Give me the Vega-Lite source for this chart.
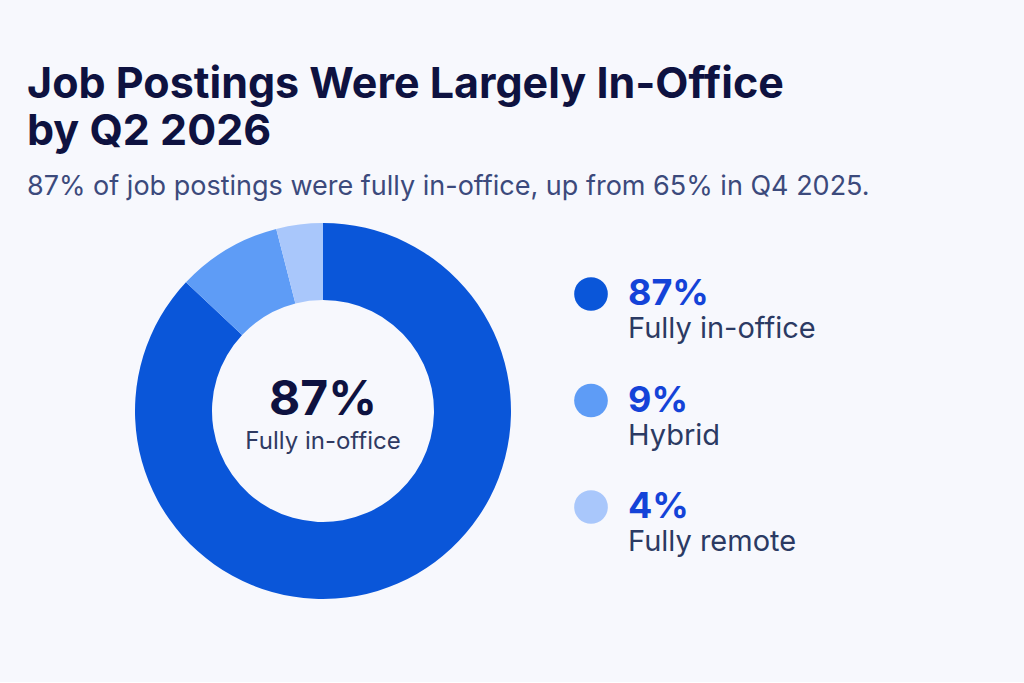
{
  "$schema": "https://vega.github.io/schema/vega-lite/v6.json",
  "background": "#f7f8fd",
  "padding": {"left": 27, "top": 64, "right": 205, "bottom": 83},
  "config": {"view": {"stroke": null}, "concat": {"spacing": 60}},
  "title": {
    "text": ["Job Postings Were Largely In-Office", "by Q2 2026"],
    "subtitle": "87% of job postings were fully in-office, up from 65% in Q4 2025.",
    "anchor": "start",
    "frame": "bounds",
    "dx": -108,
    "font": "Inter",
    "fontSize": 43,
    "fontWeight": 700,
    "color": "#0e1240",
    "lineHeight": 47,
    "subtitleFont": "Inter",
    "subtitleFontSize": 27,
    "subtitleFontWeight": 400,
    "subtitleColor": "#3c4a7c",
    "subtitlePadding": 20,
    "offset": 23
  },
  "data": {
    "values": [
      {"category": "Fully in-office", "share": 87, "pct": "87%", "rank": 1},
      {"category": "Hybrid", "share": 9, "pct": "9%", "rank": 2},
      {"category": "Fully remote", "share": 4, "pct": "4%", "rank": 3}
    ]
  },
  "hconcat": [
    {
      "width": 376,
      "height": 376,
      "layer": [
        {
          "mark": {"type": "arc", "outerRadius": 188, "innerRadius": 111},
          "encoding": {
            "theta": {"field": "share", "type": "quantitative", "stack": true},
            "order": {"field": "rank", "type": "quantitative"},
            "color": {
              "field": "category",
              "type": "nominal",
              "scale": {"domain": ["Fully in-office", "Hybrid", "Fully remote"], "range": ["#0a56d9", "#5e9cf6", "#a9c7fb"]},
              "legend": null
            }
          }
        },
        {
          "transform": [{"filter": "datum.rank == 1"}],
          "mark": {"type": "text", "font": "Inter", "fontSize": 48, "fontWeight": 700, "color": "#0e1240", "baseline": "middle", "align": "center", "dy": -10},
          "encoding": {"text": {"field": "pct"}}
        },
        {
          "transform": [{"filter": "datum.rank == 1"}],
          "mark": {"type": "text", "font": "Inter", "fontSize": 24, "fontWeight": 400, "color": "#2f3a62", "baseline": "middle", "align": "center", "dy": 31},
          "encoding": {"text": {"field": "category"}}
        }
      ]
    },
    {
      "width": 40,
      "height": 376,
      "encoding": {
        "y": {"field": "category", "type": "nominal", "sort": ["Fully in-office", "Hybrid", "Fully remote"], "scale": {"type": "point", "padding": 0, "range": [71, 284]}, "axis": null}
      },
      "layer": [
        {
          "mark": {"type": "point", "filled": true, "size": 1134, "opacity": 1},
          "encoding": {
            "color": {
              "field": "category",
              "type": "nominal",
              "scale": {"domain": ["Fully in-office", "Hybrid", "Fully remote"], "range": ["#0a56d9", "#5e9cf6", "#a9c7fb"]},
              "legend": null
            }
          }
        },
        {
          "mark": {"type": "text", "font": "Inter", "fontSize": 36, "fontWeight": 700, "color": "#1443d8", "align": "left", "baseline": "middle", "dx": 37, "dy": 0},
          "encoding": {"text": {"field": "pct"}}
        },
        {
          "mark": {"type": "text", "font": "Inter", "fontSize": 29, "fontWeight": 400, "color": "#2b3a63", "align": "left", "baseline": "middle", "dx": 37, "dy": 35},
          "encoding": {"text": {"field": "category"}}
        }
      ]
    }
  ]
}
